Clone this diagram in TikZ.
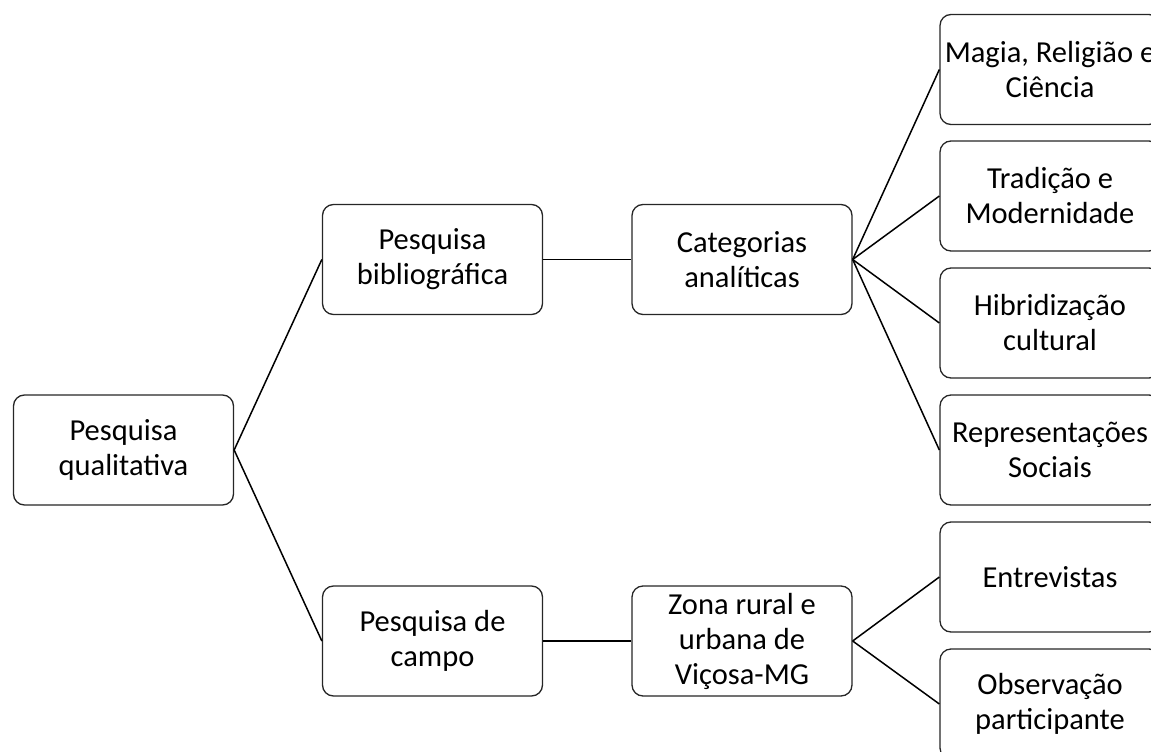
\documentclass[tikz,border=0pt]{standalone}
\usepackage{fontspec}
\setmainfont{Carlito}
\begin{document}
\begin{tikzpicture}[x=1pt,y=-1pt,
  box/.style={draw=black!85, line width=1.3pt, rounded corners=11pt, fill=white,
    minimum width=220pt, minimum height=110pt, align=center, inner sep=0pt,
    font=\fontsize{30.5}{35}\selectfont},
  link/.style={draw=black, line width=1.5pt}]
\useasboundingbox (0,0) rectangle (1151,752);
\clip (0,0) rectangle (1151,752);
\node[box] (q) at (123.5,450) {Pesquisa\\qualitativa};
\node[box] (bib) at (432.5,259.5) {Pesquisa\\bibliográfica};
\node[box] (campo) at (432.5,641) {Pesquisa de\\campo};
\node[box] (cat) at (742,259.5) {Categorias\\analíticas};
\node[box] (zona) at (742,641) {Zona rural e\\urbana de\\Viçosa-MG};
\node[box] (magia) at (1050,69.5) {Magia, Religião e\\Ciência};
\node[box] (trad) at (1050,196) {Tradição e\\Modernidade};
\node[box] (hib) at (1050,323) {Hibridização\\cultural};
\node[box] (rep) at (1050,450) {Representações\\Sociais};
\node[box] (ent) at (1050,577) {Entrevistas};
\node[box] (obs) at (1050,704) {Observação\\participante};
\draw[link] (q.east) -- (bib.west);
\draw[link] (q.east) -- (campo.west);
\draw[link] (bib.east) -- (cat.west);
\draw[link] (campo.east) -- (zona.west);
\draw[link] (cat.east) -- (magia.west);
\draw[link] (cat.east) -- (trad.west);
\draw[link] (cat.east) -- (hib.west);
\draw[link] (cat.east) -- (rep.west);
\draw[link] (zona.east) -- (ent.west);
\draw[link] (zona.east) -- (obs.west);
\end{tikzpicture}
\end{document}
